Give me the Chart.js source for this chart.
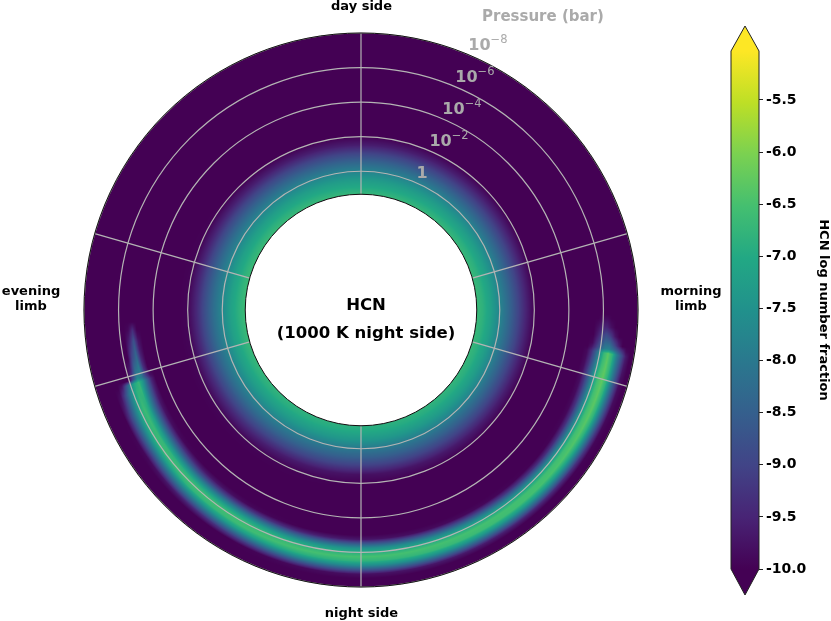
<!DOCTYPE html>
<html>
<head>
<meta charset="utf-8">
<title>HCN</title>
<script src="https://cdn.jsdelivr.net/npm/chart.js@4/dist/chart.umd.min.js"></script>
<style>
  html, body { margin: 0; padding: 0; background: #fff; }
  #wrap { position: relative; width: 831px; height: 621px; overflow: hidden; }
  #polar { position: absolute; left: 0; top: 0; }
  #cbar { position: absolute; left: 700px; top: 0; }
</style>
</head>
<body>
<div id="wrap">
  <canvas id="polar" width="831" height="621"></canvas>
  <canvas id="cbar" width="131" height="621"></canvas>
</div>
<script>
// log10 pressure (bar) rings and spokes
const pressureTicks = [0, -2, -4, -6, -8];
const pressureLabels = ['1', '10', '10', '10', '10'];
const pressureExps = ['', '\u22122', '\u22124', '\u22126', '\u22128'];
const spokeLons = [0, 74, 106, 180, 254, 286];   // degrees clockwise from the day side
const innerPressure = 1.33;

// colour scale
const cbarMin = -10, cbarMax = -5.03;
const cbarTicks = [-10, -9.5, -9, -8.5, -8, -7.5, -7, -6.5, -6, -5.5];
const viridisStops = ['#440154', '#482475', '#414487', '#355f8d', '#2a788e', '#21918c', '#22a884', '#44bf70', '#7ad151', '#bddf26', '#fde725'];

// deep band next to the inner circle: log HCN by longitude and pressure
const bandLon = [0, 45, 90, 135, 180, 225, 270, 315, 360];
const bandLevels = [1.33, 1, 0.5, 0, -0.5, -1, -1.5, -2, -2.5];
const bandRows = [
  [-6.7, -6.95, -7.3, -7.8, -8.35, -8.95, -9.6, -10, -10],
  [-6.7, -6.9, -7.3, -7.8, -8.35, -8.95, -9.55, -10, -10],
  [-6.65, -6.8, -7.2, -7.75, -8.3, -8.9, -9.5, -10, -10],
  [-6.75, -6.9, -7.3, -7.85, -8.4, -9, -9.6, -10, -10],
  [-6.85, -7, -7.4, -8, -8.5, -9.1, -9.8, -10, -10],
  [-6.75, -6.9, -7.3, -7.8, -8.3, -8.9, -9.5, -9.95, -10],
  [-6.6, -6.8, -7.15, -7.7, -8.2, -8.8, -9.45, -9.95, -10],
  [-6.65, -6.85, -7.25, -7.75, -8.3, -8.9, -9.55, -10, -10],
  [-6.7, -6.95, -7.3, -7.8, -8.35, -8.95, -9.6, -10, -10]
];

// upper atmosphere crescent on the night side
const crescentLon = [91, 92, 94, 96, 98, 99, 100, 105, 115, 130, 150, 165, 180, 195, 210, 225, 235, 245, 250, 252, 253, 255, 258, 262, 265, 267];
const crescentLevels = [-4.5, -4.75, -5, -5.25, -5.5, -5.75, -6, -6.25, -6.5, -6.75, -7, -7.25, -7.5, -7.75, -8];
const crescentRows = [
  [-10, -10, -10, -10, -10, -10, -10, -10, -10, -10, -10, -10, -10, -10, -10],
  [-10, -10, -10, -10, -10, -10, -9.85, -9.85, -10, -10, -10, -10, -10, -10, -10],
  [-10, -10, -10, -10, -10, -9.8, -9.5, -9.5, -9.8, -10, -10, -10, -10, -10, -10],
  [-10, -10, -10, -10, -10, -9.6, -9.1, -8.8, -9.1, -9.7, -10, -10, -10, -10, -10],
  [-10, -10, -10, -10, -9.9, -9.3, -8.7, -8.2, -8.2, -8.8, -9.5, -10, -10, -10, -10],
  [-10, -10, -10, -10, -9.7, -9.1, -8.4, -7.9, -7.8, -8.2, -8.7, -9.3, -9.9, -10, -10],
  [-10, -10, -10, -9.9, -9.4, -8.6, -7.6, -6.7, -6.3, -6.8, -7.9, -8.7, -9.6, -10, -10],
  [-10, -10, -10, -9.8, -9.1, -8.2, -7.2, -6.5, -6.25, -6.8, -7.9, -8.9, -9.8, -10, -10],
  [-10, -10, -10, -9.9, -9.3, -8.3, -7.3, -6.55, -6.3, -6.8, -7.9, -9, -9.9, -10, -10],
  [-10, -10, -10, -10, -9.4, -8.3, -7.2, -6.55, -6.45, -7.1, -8.2, -9.4, -10, -10, -10],
  [-10, -10, -10, -9.9, -9, -7.9, -7, -6.5, -6.6, -7.4, -8.5, -9.6, -10, -10, -10],
  [-10, -10, -10, -9.85, -8.8, -7.7, -6.95, -6.5, -6.7, -7.5, -8.6, -9.7, -10, -10, -10],
  [-10, -10, -10, -9.7, -8.6, -7.5, -6.9, -6.5, -6.8, -7.6, -8.7, -9.8, -10, -10, -10],
  [-10, -10, -10, -9.5, -8.4, -7.4, -6.75, -6.5, -6.9, -7.8, -8.9, -9.9, -10, -10, -10],
  [-10, -10, -9.9, -9.1, -8, -7.1, -6.55, -6.6, -7.2, -8.2, -9.2, -10, -10, -10, -10],
  [-10, -10, -9.6, -8.8, -7.8, -6.95, -6.5, -6.8, -7.7, -8.6, -9.6, -10, -10, -10, -10],
  [-10, -9.9, -9.2, -8.3, -7.4, -6.7, -6.6, -7.3, -8.2, -9.1, -9.9, -10, -10, -10, -10],
  [-10, -9.7, -8.9, -8, -7, -6.6, -6.9, -7.7, -8.5, -9.3, -10, -10, -10, -10, -10],
  [-10, -9.5, -8.6, -7.6, -6.7, -6.8, -7.3, -8.1, -9, -9.8, -10, -10, -10, -10, -10],
  [-10, -9.5, -8.5, -7.4, -6.7, -7, -7.7, -8.7, -9.7, -10, -10, -10, -10, -10, -10],
  [-10, -9.8, -9, -8, -7.7, -8.8, -10, -10, -10, -10, -10, -10, -10, -10, -10],
  [-10, -10, -9.3, -7.9, -8.2, -9.5, -10, -10, -10, -10, -10, -10, -10, -10, -10],
  [-10, -10, -9.5, -8.3, -8.9, -10, -10, -10, -10, -10, -10, -10, -10, -10, -10],
  [-10, -10, -9.7, -8.7, -9.5, -10, -10, -10, -10, -10, -10, -10, -10, -10, -10],
  [-10, -10, -10, -9.4, -9.9, -10, -10, -10, -10, -10, -10, -10, -10, -10, -10],
  [-10, -10, -10, -10, -10, -10, -10, -10, -10, -10, -10, -10, -10, -10, -10]
];

const FONT = '"DejaVu Sans", sans-serif';

function hexRgb(h) {
  return [parseInt(h.slice(1, 3), 16), parseInt(h.slice(3, 5), 16), parseInt(h.slice(5, 7), 16)];
}
const viridisRgb = viridisStops.map(hexRgb);

function viridis(v) {
  const f = Math.min(1, Math.max(0, (v - cbarMin) / (-5 - cbarMin))) * (viridisRgb.length - 1);
  const i = Math.min(viridisRgb.length - 2, Math.floor(f));
  const t = f - i;
  const a = viridisRgb[i], b = viridisRgb[i + 1];
  return [a[0] + (b[0] - a[0]) * t, a[1] + (b[1] - a[1]) * t, a[2] + (b[2] - a[2]) * t];
}

// shade between the table values, like gouraud shading in the original plot
function lookup(lons, levels, rows, lon, p) {
  if (lon < lons[0] || lon > lons[lons.length - 1]) return cbarMin;
  if (p > levels[0] || p < levels[levels.length - 1]) return cbarMin;
  let i = 0;
  while (i < lons.length - 2 && lon > lons[i + 1]) i++;
  let j = 0;
  while (j < levels.length - 2 && p < levels[j + 1]) j++;
  const tx = (lon - lons[i]) / (lons[i + 1] - lons[i]);
  const ty = (levels[j] - p) / (levels[j] - levels[j + 1]);
  const top = rows[i][j] + (rows[i + 1][j] - rows[i][j]) * tx;
  const bot = rows[i][j + 1] + (rows[i + 1][j + 1] - rows[i][j + 1]) * tx;
  return top + (bot - top) * ty;
}

const heatPlugin = {
  id: 'heat',
  beforeDatasetsDraw(chart) {
    const r = chart.scales.r;
    const ctx = chart.ctx;
    const cx = r.xCenter, cy = r.yCenter;
    const outer = r.getDistanceFromCenterForValue(-8);
    const inner = r.getDistanceFromCenterForValue(innerPressure);

    const off = document.createElement('canvas');
    off.width = chart.width;
    off.height = chart.height;
    const octx = off.getContext('2d');
    const img = octx.createImageData(off.width, off.height);
    for (let y = Math.floor(cy - outer - 1); y <= cy + outer + 1; y++) {
      for (let x = Math.floor(cx - outer - 1); x <= cx + outer + 1; x++) {
        const dx = x + 0.5 - cx, dy = y + 0.5 - cy;
        const d = Math.hypot(dx, dy);
        if (d > outer + 2 || d < inner - 2) continue;
        const p = r.getValueForDistanceFromCenter(d);
        let lon = Math.atan2(dx, -dy) * 180 / Math.PI;
        if (lon < 0) lon += 360;
        const v = Math.max(
          lookup(bandLon, bandLevels, bandRows, lon, p),
          lookup(crescentLon, crescentLevels, crescentRows, lon, p)
        );
        const c = viridis(v);
        const k = (y * off.width + x) * 4;
        img.data[k] = c[0];
        img.data[k + 1] = c[1];
        img.data[k + 2] = c[2];
        img.data[k + 3] = 255;
      }
    }
    octx.putImageData(img, 0, 0);

    ctx.save();
    ctx.beginPath();
    ctx.arc(cx, cy, outer, 0, Math.PI * 2);
    ctx.arc(cx, cy, inner, 0, Math.PI * 2, true);
    ctx.clip();
    ctx.drawImage(off, 0, 0);
    ctx.restore();

    // spokes
    ctx.save();
    ctx.strokeStyle = '#b4b4b4';
    ctx.lineWidth = 1.2;
    spokeLons.forEach(lon => {
      const a = lon * Math.PI / 180;
      ctx.beginPath();
      ctx.moveTo(cx + Math.sin(a) * inner, cy - Math.cos(a) * inner);
      ctx.lineTo(cx + Math.sin(a) * outer, cy - Math.cos(a) * outer);
      ctx.stroke();
    });
    ctx.restore();
  },
  afterDraw(chart) {
    const r = chart.scales.r;
    const ctx = chart.ctx;
    const cx = r.xCenter, cy = r.yCenter;
    const outer = r.getDistanceFromCenterForValue(-8);
    const inner = r.getDistanceFromCenterForValue(innerPressure);

    ctx.save();
    ctx.strokeStyle = '#111';
    ctx.lineWidth = 1;
    ctx.beginPath();
    ctx.arc(cx, cy, outer, 0, Math.PI * 2);
    ctx.stroke();
    ctx.beginPath();
    ctx.arc(cx, cy, inner, 0, Math.PI * 2);
    ctx.stroke();

    // pressure labels sit along a line 22 deg off the day side
    const a = 22 * Math.PI / 180;
    ctx.fillStyle = '#aaaaaa';
    ctx.textBaseline = 'alphabetic';
    ctx.textAlign = 'left';
    pressureTicks.forEach((t, i) => {
      const d = r.getDistanceFromCenterForValue(t);
      const x = cx + Math.sin(a) * d + 3.5;
      const y = cy - Math.cos(a) * d - 3.5;
      ctx.font = 'bold 16px ' + FONT;
      ctx.fillText(pressureLabels[i], x, y);
      if (pressureExps[i]) {
        const w = ctx.measureText(pressureLabels[i]).width;
        ctx.font = '11.5px ' + FONT;
        ctx.fillText(pressureExps[i], x + w, y - 7);
      }
    });
    ctx.font = 'bold 15px ' + FONT;
    ctx.fillText('Pressure (bar)', 482, 21);

    ctx.fillStyle = '#000';
    ctx.textAlign = 'center';
    ctx.font = 'bold 13px ' + FONT;
    ctx.fillText('day side', 361.5, 10);
    ctx.fillText('night side', 361.5, 617);
    ctx.fillText('evening', 31, 295);
    ctx.fillText('limb', 31, 310);
    ctx.fillText('morning', 691, 295);
    ctx.fillText('limb', 691, 310);

    ctx.font = 'bold 16.5px ' + FONT;
    ctx.fillText('HCN', 366, 310);
    ctx.fillText('(1000 K night side)', 366, 338);
    ctx.restore();
  }
};

new Chart(document.getElementById('polar'), {
  type: 'radar',
  data: { labels: ['day side', 'morning limb', 'night side', 'evening limb'], datasets: [] },
  options: {
    responsive: false,
    animation: false,
    layout: { padding: { left: 84, right: 192, top: 33, bottom: 33 } },
    plugins: { legend: { display: false }, tooltip: { enabled: false } },
    scales: {
      r: {
        min: -8,
        max: 8.03,
        reverse: true,
        afterBuildTicks(scale) {
          scale.ticks = pressureTicks.map(v => ({ value: v }));
        },
        ticks: { display: false, showLabelBackdrop: false },
        pointLabels: { display: false },
        angleLines: { display: false },
        grid: { circular: true, color: '#b4b4b4', lineWidth: 1.2, z: 1 }
      }
    }
  },
  plugins: [heatPlugin]
});

const cbarEnds = {
  id: 'cbarEnds',
  afterDraw(chart) {
    const { left, right, top, bottom } = chart.chartArea;
    const ctx = chart.ctx;
    const mid = (left + right) / 2;
    ctx.save();
    ctx.fillStyle = viridisStops[10];
    ctx.beginPath();
    ctx.moveTo(left, top);
    ctx.lineTo(mid, top - 25);
    ctx.lineTo(right, top);
    ctx.closePath();
    ctx.fill();
    ctx.fillStyle = viridisStops[0];
    ctx.beginPath();
    ctx.moveTo(left, bottom);
    ctx.lineTo(mid, bottom + 26);
    ctx.lineTo(right, bottom);
    ctx.closePath();
    ctx.fill();
    ctx.strokeStyle = '#222';
    ctx.lineWidth = 1;
    ctx.beginPath();
    ctx.moveTo(left, top);
    ctx.lineTo(mid, top - 25);
    ctx.lineTo(right, top);
    ctx.lineTo(right, bottom);
    ctx.lineTo(mid, bottom + 26);
    ctx.lineTo(left, bottom);
    ctx.closePath();
    ctx.stroke();
    ctx.restore();
  }
};

new Chart(document.getElementById('cbar'), {
  type: 'bar',
  data: {
    labels: ['HCN'],
    datasets: [{
      data: [[cbarMin, cbarMax]],
      barPercentage: 1,
      categoryPercentage: 1,
      backgroundColor(c) {
        const area = c.chart.chartArea;
        if (!area) return viridisStops[0];
        const g = c.chart.ctx.createLinearGradient(0, area.bottom, 0, area.top);
        viridisStops.forEach((col, i) => g.addColorStop(i / 10, col));
        return g;
      }
    }]
  },
  options: {
    responsive: false,
    animation: false,
    layout: { padding: { left: 31, right: 0, top: 51, bottom: 52 } },
    plugins: { legend: { display: false }, tooltip: { enabled: false } },
    scales: {
      x: { display: false },
      y: {
        position: 'right',
        min: cbarMin,
        max: cbarMax,
        afterBuildTicks(scale) {
          scale.ticks = cbarTicks.map(v => ({ value: v }));
        },
        afterFit(scale) { scale.width = 72; },
        grid: { drawOnChartArea: false, tickLength: 4, tickColor: '#222', tickWidth: 1 },
        border: { display: false },
        ticks: {
          color: '#000',
          padding: 3,
          font: { family: FONT, weight: 'bold', size: 14 },
          callback: v => v.toFixed(1)
        },
        title: {
          display: true,
          text: 'HCN log number fraction',
          color: '#000',
          font: { family: FONT, weight: 'bold', size: 13 },
          padding: { top: 0, bottom: 2 }
        }
      }
    }
  },
  plugins: [cbarEnds]
});
</script>
</body>
</html>
